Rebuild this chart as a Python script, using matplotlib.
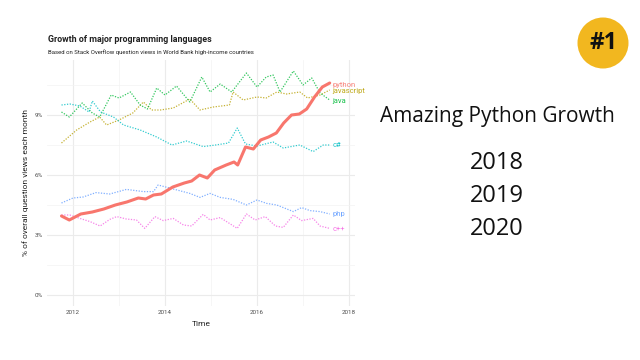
import matplotlib
matplotlib.use("Agg")
import matplotlib.pyplot as plt
from matplotlib.patches import Ellipse

# ---------------------------------------------------------
# data (share of question views, %)
# ---------------------------------------------------------
python_t = [2011.75, 2011.92, 2012.17, 2012.42, 2012.67, 2012.92, 2013.17, 2013.42, 2013.58,
            2013.75, 2013.92, 2014.17, 2014.42, 2014.58, 2014.75, 2014.92, 2015.08, 2015.33,
            2015.5, 2015.58, 2015.75, 2015.92, 2016.08, 2016.25, 2016.42, 2016.58, 2016.75,
            2016.92, 2017.08, 2017.25, 2017.42, 2017.58]
python_v = [3.95, 3.75, 4.05, 4.15, 4.3, 4.5, 4.65, 4.85, 4.8, 5.0, 5.05, 5.4, 5.6, 5.7, 6.0,
            5.85, 6.25, 6.5, 6.65, 6.5, 7.4, 7.3, 7.75, 7.9, 8.1, 8.6, 9.0, 9.05, 9.3, 9.9,
            10.4, 10.6]

java_t = [2011.75, 2011.92, 2012.2, 2012.42, 2012.58, 2012.83, 2013.0, 2013.25, 2013.46,
          2013.62, 2013.82, 2014.0, 2014.25, 2014.54, 2014.8, 2014.98, 2015.2, 2015.45,
          2015.77, 2016.0, 2016.2, 2016.35, 2016.5, 2016.79, 2017.0, 2017.19, 2017.37, 2017.58]
java_v = [9.15, 8.9, 9.6, 9.1, 8.9, 10.0, 9.85, 10.15, 9.5, 9.3, 10.35, 10.0, 10.45, 9.65,
          10.9, 10.15, 10.55, 10.15, 11.1, 10.4, 10.9, 11.0, 10.15, 11.2, 10.5, 10.85, 10.1, 9.75]

js_t = [2011.75, 2012.08, 2012.37, 2012.58, 2012.73, 2013.0, 2013.3, 2013.53, 2013.71, 2013.9,
        2014.18, 2014.54, 2014.76, 2015.05, 2015.4, 2015.48, 2015.7, 2016.0, 2016.2, 2016.43,
        2016.64, 2016.93, 2017.1, 2017.37, 2017.58]
js_v = [7.6, 8.25, 8.65, 8.9, 8.5, 8.75, 9.1, 9.65, 9.25, 9.25, 9.35, 9.8, 9.25, 9.4, 9.5,
        10.15, 9.75, 9.9, 9.85, 10.15, 10.05, 10.15, 9.85, 10.0, 10.25]

cs_t = [2011.75, 2011.93, 2012.15, 2012.35, 2012.42, 2012.6, 2012.88, 2013.1, 2013.46, 2013.82,
        2014.15, 2014.47, 2014.83, 2015.1, 2015.38, 2015.57, 2015.75, 2016.0, 2016.35, 2016.57,
        2016.93, 2017.22, 2017.44, 2017.58]
cs_v = [9.5, 9.55, 9.45, 9.15, 9.7, 9.15, 8.9, 8.5, 8.25, 7.9, 7.5, 7.7, 7.42, 7.5, 7.6, 8.35,
        7.55, 7.45, 7.65, 7.35, 7.5, 7.17, 7.5, 7.5]

php_t = [2011.75, 2012.0, 2012.22, 2012.5, 2012.8, 2013.16, 2013.53, 2013.75, 2013.85, 2014.18,
         2014.54, 2014.76, 2014.98, 2015.2, 2015.48, 2015.77, 2016.0, 2016.21, 2016.43, 2016.79,
         2016.97, 2017.15, 2017.37, 2017.58]
php_v = [4.6, 4.85, 4.9, 5.12, 5.05, 5.28, 5.17, 5.17, 5.5, 5.3, 5.08, 4.88, 5.08, 4.88, 4.78,
         4.5, 4.75, 4.58, 4.5, 4.17, 4.37, 4.22, 4.17, 4.05]

cpp_t = [2011.75, 2011.93, 2012.15, 2012.37, 2012.59, 2012.8, 2012.95, 2013.16, 2013.38,
         2013.56, 2013.78, 2013.96, 2014.18, 2014.4, 2014.58, 2014.83, 2014.98, 2015.2, 2015.4,
         2015.57, 2015.77, 2015.96, 2016.18, 2016.4, 2016.57, 2016.79, 2016.97, 2017.22,
         2017.37, 2017.58]
cpp_v = [4.0, 4.0, 3.83, 3.67, 3.45, 3.78, 3.92, 3.8, 3.75, 3.33, 3.92, 3.72, 3.83, 3.5, 3.45,
         4.03, 3.75, 3.87, 3.58, 3.33, 4.05, 3.75, 3.92, 3.45, 3.38, 4.0, 3.72, 3.83, 3.45, 3.33]

# label name, end-label height, colour
series_names = ["python", "javascript", "java", "c#", "php", "c++"]
label_y = [10.5, 10.2, 9.7, 7.5, 4.05, 3.3]
colors = ["#F8766D", "#B79F00", "#00BA38", "#00BFC4", "#619CFF", "#F564E3"]

x_ticks = [2012, 2014, 2016, 2018]
y_ticks = [0, 3, 6, 9]

right_title = "Amazing Python Growth"
right_years = ["2018", "2019", "2020"]

plt.rcParams["font.family"] = ["Roboto", "DejaVu Sans"]

fig = plt.figure(figsize=(6.4, 3.6), dpi=100)
fig.patch.set_facecolor("white")

# panel: x 47..355 px, y 60..306 px
ax = fig.add_axes([47 / 640, 54 / 360, 308 / 640, 246 / 360])

all_series = [(python_t, python_v), (js_t, js_v), (java_t, java_v),
              (cs_t, cs_v), (php_t, php_v), (cpp_t, cpp_v)]

# dotted lines first, python on top
for (t, v), c in list(zip(all_series, colors))[1:]:
    ax.plot(t, v, color=c, lw=0.9, ls=(0, (1, 1.2)), alpha=0.8)
ax.plot(python_t, python_v, color=colors[0], lw=2.2, solid_capstyle="round", zorder=5)

for name, yl, c in zip(series_names, label_y, colors):
    ax.text(2017.64, yl, name, color=c, fontsize=5.5, va="center", ha="left", alpha=0.9)

ax.set_xlim(2011.435, 2018.13)
ax.set_ylim(-0.55, 11.75)
ax.set_xticks(x_ticks)
ax.set_xticks([2013, 2015, 2017], minor=True)
ax.set_yticks(y_ticks)
ax.set_yticks([1.5, 4.5, 7.5, 10.5], minor=True)
ax.set_yticklabels([f"{v}%" for v in y_ticks])
ax.grid(True, which="major", color="#EBEBEB", lw=0.8)
ax.grid(True, which="minor", color="#F3F3F3", lw=0.5)
ax.set_axisbelow(True)
for s in ax.spines.values():
    s.set_visible(False)
ax.tick_params(which="both", length=0, labelsize=4.5, labelcolor="#4D4D4D", pad=3)
ax.set_xlabel("Time", fontsize=6, color="#222222", labelpad=4)
ax.set_ylabel("% of overall question views each month", fontsize=6, color="#222222", labelpad=4)

fig.text(48 / 640, 1 - 40 / 360, "Growth of major programming languages",
         fontsize=6.4, fontweight="bold", color="#222222", va="center")
fig.text(48 / 640, 1 - 52 / 360,
         "Based on Stack Overflow question views in World Bank high-income countries",
         fontsize=4.3, color="#222222", va="center")

# right-hand side text
fig.text(497 / 640, 1 - 117 / 360, right_title, fontsize=15, family="Open Sans",
         color="#111111", ha="center", va="center")
for i, yr in enumerate(right_years):
    fig.text(497 / 640, 1 - (163 + 33 * i) / 360, yr, fontsize=17, family="Open Sans",
             color="#111111", ha="center", va="center")

# "#1" badge
badge = Ellipse((603 / 640, 1 - 43 / 360), 51 / 640, 51 / 360, transform=fig.transFigure,
                facecolor="#F2B71F", edgecolor="none")
fig.patches.append(badge)
fig.text(603 / 640, 1 - 43 / 360, "#1", fontsize=16.5, fontweight="bold", family="Open Sans",
         color="#111111", ha="center", va="center")

fig.savefig("out.png", dpi=100, facecolor="white")
plt.close(fig)
